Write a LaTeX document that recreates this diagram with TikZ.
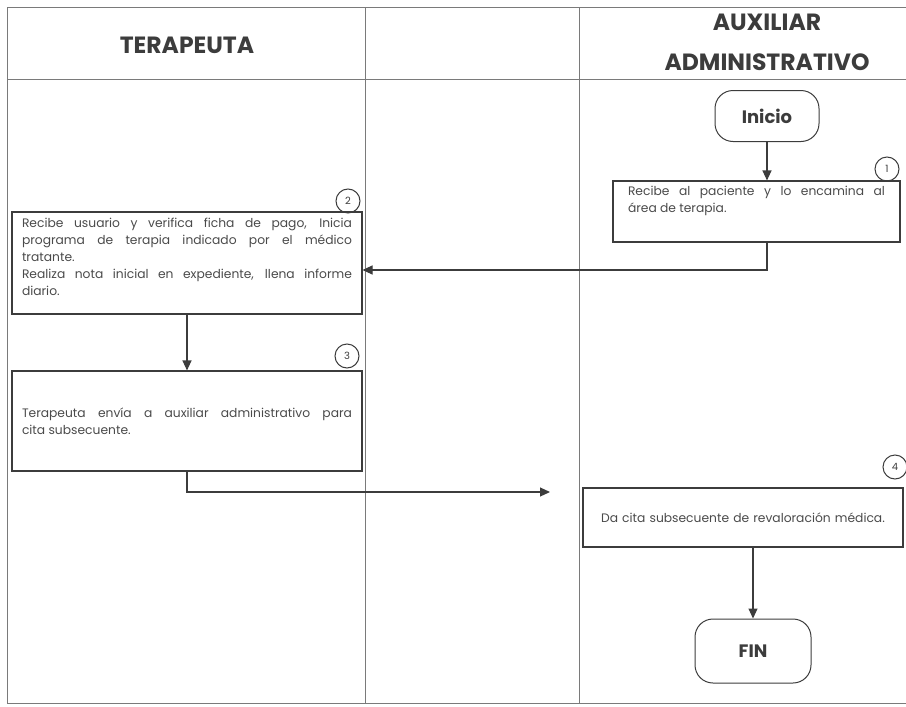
\documentclass[tikz,border=0pt]{standalone}
\usepackage{fontspec}
\setmainfont{Poppins}
\usetikzlibrary{positioning,arrows.meta}
\definecolor{tinta}{HTML}{3C3C3C}
\definecolor{letra}{HTML}{4A4A4A}
\definecolor{carril}{HTML}{7A7A7A}
\hyphenpenalty=10000
\exhyphenpenalty=10000

\begin{document}
\begin{tikzpicture}[x=1pt,y=-1pt,
    paso/.style={draw=tinta,line width=1.1pt,align=justify,text=letra,
      font=\fontsize{12.3}{17}\selectfont,inner ysep=0pt},
    extremo/.style={draw=tinta,line width=1pt,rounded corners=18pt,text=tinta,
      font=\fontsize{18}{20}\selectfont\bfseries},
    num/.style={draw=tinta,circle,line width=1pt,minimum size=24pt,inner sep=0pt,
      font=\fontsize{10}{11}\selectfont,text=tinta},
    titulo/.style={align=center,text=tinta,font=\fontsize{23.5}{40}\selectfont\bfseries},
    flujo/.style={draw=tinta,line width=1.1pt,-{Triangle[length=10pt,width=9pt]}}]
  \useasboundingbox (0,0) rectangle (906,707);
  % carriles
  \draw[carril,line width=0.7pt] (906,7) -- (7,7) -- (7,703) -- (906,703);
  \draw[carril,line width=0.7pt] (7,79) -- (906,79);
  \foreach \x in {365,579} \draw[carril,line width=0.7pt] (\x,7) -- (\x,703);
  \node[titulo] (terapeuta) at (187,45) {TERAPEUTA};
  \node[titulo] (auxiliar) at (767,42) {AUXILIAR\\ADMINISTRATIVO};
  % pasos
  \node[extremo,minimum width=104pt,minimum height=51pt] (inicio) at (767,116) {Inicio};
  \node[paso,text width=257pt,inner xsep=15pt,minimum height=61pt] (paso1) at (756.5,211.5)
    {Recibe al paciente y lo encamina al\linebreak área de terapia.\par\vspace*{21pt}};
  \node[paso,text width=330pt,inner xsep=10pt,minimum height=102pt] (paso2) at (187,263)
    {Recibe usuario y verifica ficha de pago, Inicia\linebreak programa de terapia indicado por el médico\linebreak tratante.\\
     Realiza nota inicial en expediente, llena informe\linebreak diario.\par\vspace*{13pt}};
  \node[paso,text width=330pt,inner xsep=10pt,minimum height=100pt] (paso3) at (187,421)
    {Terapeuta envía a auxiliar administrativo para\linebreak cita subsecuente.};
  \node[paso,align=center,text width=300pt,inner xsep=10pt,minimum height=59pt] (paso4) at (743,517.5)
    {Da cita subsecuente de revaloración médica.};
  \node[extremo,minimum width=116pt,minimum height=64pt] (fin) at (753,651) {FIN};
  \node[num] (n1) at (887,169) {1};
  \node[num] (n2) at (348,201) {2};
  \node[num] (n3) at (347,356) {3};
  \node[num] (n4) at (895,467) {4};
  \coordinate (llegada) at (550,492);
  % conectores
  \draw[flujo] (inicio) -- (inicio |- paso1.north);
  \draw[flujo] (paso1.south -| inicio) |- ([yshift=-7pt]paso2.east);
  \draw[flujo] (paso2) -- (paso3);
  \draw[flujo] (paso3.south) |- (llegada);
  \draw[flujo] (paso4.south -| fin.north) -- (fin);
\end{tikzpicture}
\end{document}
